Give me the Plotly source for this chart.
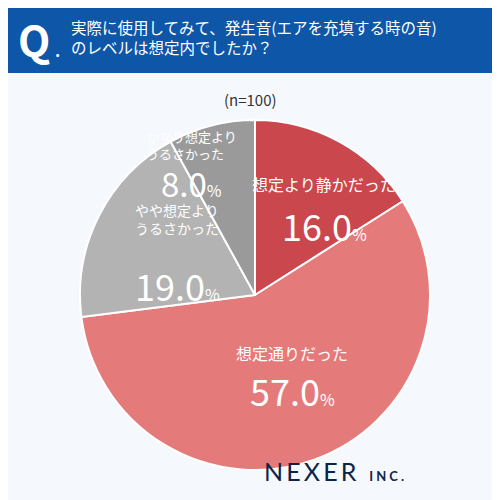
import plotly.graph_objects as go

labels = ["想定より静かだった", "想定通りだった", "やや想定より<br>うるさかった", "かなり想定より<br>うるさかった"]
values = [16.0, 57.0, 19.0, 8.0]
colors = ["#c9474d", "#e57a7a", "#b3b3b3", "#9a9a9a"]

D = 8  # page offset compensation
def px(x): return (x - D) / 500
def py(y): return 1 - (y - D) / 500

fig = go.Figure(go.Pie(
    values=values, labels=labels, sort=False, direction="clockwise", rotation=0,
    marker=dict(colors=colors, line=dict(color="white", width=2)),
    textinfo="none", hoverinfo="skip", showlegend=False,
    domain=dict(x=[px(80), px(430)], y=[py(470), py(120)]),
))

F = "Noto Sans CJK JP"
shapes = [dict(type="rect", xref="paper", yref="paper", x0=-0.1, x1=1.1, y0=py(73), y1=1.1,
               fillcolor="#0d56a8", line=dict(width=0), layer="below")]
ann = [
    dict(x=px(16), y=py(38), text="<b>Q</b>", font=dict(size=42, color="white", family=F), xanchor="left"),
    dict(x=px(53), y=py(50), text="<b>.</b>", font=dict(size=16, color="white", family=F), xanchor="left"),
    dict(x=px(69), y=py(37), align="left", xanchor="left",
         text="実際に使用してみて、発生音(エアを充填する時の音)<br>のレベルは想定内でしたか？",
         font=dict(size=15.5, color="white", family=F)),
    dict(x=px(250), y=py(100), text="(n=100)", font=dict(size=15, color="#333", family=F)),
]
lab = [
    (324, 184, "想定より静かだった", 16, 225, "16.0", 36),
    (292, 353, "想定通りだった", 16, 390, "57.0", 36),
    (133, 219, "やや想定より<br>うるさかった", 14, 285, "19.0", 36),
    (191, 145, "かなり想定より<br>うるさかった", 13, 183, "8.0", 33),
]
for x, y, t, s, y2, p, ns in lab:
    ann.append(dict(x=px(x), y=py(y), text=t, font=dict(size=s, color="white", family=F), align="left"))
    ann.append(dict(x=px(x), y=py(y2), text=f"{p}<span style='font-size:16px'>%</span>",
                    font=dict(size=ns, color="white", family=F)))
hs = "\u2009"
ann.append(dict(x=px(406), y=py(471), text=hs.join("NEXER") + "  <span style='font-size:13px'><b>I N C .</b></span>",
                font=dict(size=25, color="#0e2446", family="Lato")))
for a in ann:
    a.update(xref="paper", yref="paper", showarrow=False, yanchor="middle")

fig.update_layout(width=500, height=500, margin=dict(l=0, r=0, t=0, b=0),
                  paper_bgcolor="#f5f8fc", plot_bgcolor="#f5f8fc", shapes=shapes, annotations=ann)
fig.write_html("out.html")
